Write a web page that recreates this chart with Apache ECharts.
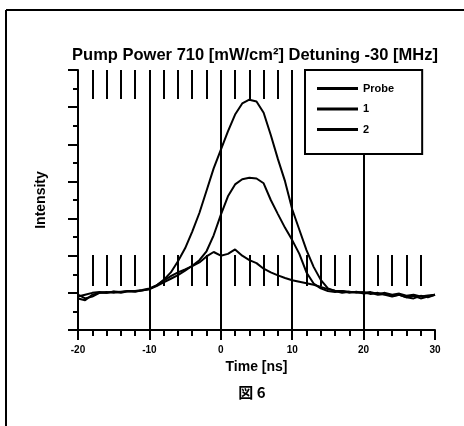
<!DOCTYPE html>
<html>
<head>
<meta charset="utf-8">
<script src="https://cdn.jsdelivr.net/npm/echarts@6/dist/echarts.min.js"></script>
<style>
html,body{margin:0;padding:0;background:#fff;}
#chart{width:464px;height:426px;}
</style>
</head>
<body>
<div id="chart"></div>
<script>
// ---- data ----
const titleText = 'Pump Power 710 [mW/cm²] Detuning -30 [MHz]';
const xAxisName = 'Time [ns]';
const yAxisName = 'Intensity';
const caption = '図 6';
const seriesNames = ['Probe', '1', '2'];
const xTicks = [-20, -10, 0, 10, 20, 30];
const times = [-20,-19,-18,-17,-16,-15,-14,-13,-12,-11,
               -10,-9,-8,-7,-6,-5,-4,-3,-2,-1,
               0,1,2,3,4,5,6,7,8,9,
               10,11,12,13,14,15,16,17,18,19,
               20,21,22,23,24,25,26,27,28,29,30];
const probe = [-0.15,-0.2,-0.05,0.0,0.02,0.0,0.03,0.05,0.04,0.06,
               0.1,0.2,0.33,0.45,0.55,0.63,0.72,0.82,0.98,1.1,
               1.0,1.05,1.17,1.0,0.88,0.8,0.65,0.55,0.47,0.4,
               0.34,0.3,0.26,0.22,0.16,0.1,0.06,0.05,0.03,0.02,
               0.0,0.02,-0.03,0.0,-0.05,-0.02,-0.08,-0.05,-0.1,-0.07,-0.05];
const signal1 = [-0.05,-0.15,-0.1,0.0,0.0,0.03,0.0,0.04,0.03,0.07,
                 0.1,0.18,0.28,0.38,0.48,0.6,0.73,0.88,1.12,1.55,
                 2.1,2.6,2.92,3.06,3.1,3.08,2.95,2.5,2.12,1.75,
                 1.42,1.05,0.55,0.25,0.12,0.05,0.02,0.05,0.0,0.03,
                 -0.02,0.0,-0.05,-0.03,-0.08,-0.05,-0.12,-0.08,-0.15,-0.1,-0.05];
const signal2 = [-0.1,-0.05,0.0,0.02,0.0,0.04,0.02,0.05,0.05,0.08,
                 0.12,0.2,0.35,0.55,0.85,1.2,1.65,2.15,2.75,3.35,
                 3.85,4.35,4.8,5.1,5.2,5.15,4.85,4.25,3.6,3.0,
                 2.25,1.7,1.15,0.7,0.35,0.12,0.05,0.0,0.03,0.0,
                 0.02,-0.03,0.0,-0.05,-0.1,-0.05,-0.12,-0.15,-0.08,-0.12,-0.05];
const seriesValues = [probe, signal1, signal2];

// ---- chart ----
const FONT = 'Liberation Sans';
const chart = echarts.init(document.getElementById('chart'), null, {renderer: 'canvas'});
const xMin = xTicks[0], xMax = xTicks[xTicks.length - 1], xStep = xTicks[1] - xTicks[0];

function pairs(vals) { return times.map((t, i) => [t, vals[i]]); }

const option = {
  backgroundColor: '#fff',
  animation: false,
  title: [
    { text: titleText, left: 255, textAlign: 'center', top: 47, padding: 0,
      textStyle: { fontFamily: FONT, fontSize: 16.5, fontWeight: 'bold', color: '#000' } },
    { text: caption, left: 252, textAlign: 'center', top: 385, padding: 0,
      textStyle: { fontFamily: 'Noto Sans CJK JP', fontSize: 15, fontWeight: 'bold', color: '#000' } }
  ],
  legend: {
    orient: 'vertical', left: 305, top: 70,
    padding: [13, 28, 19, 12],
    itemWidth: 41, itemHeight: 14, itemGap: 9.5,
    icon: 'path://M0,0H41V3H0Z',
    backgroundColor: '#fff', borderColor: '#000', borderWidth: 2, borderRadius: 0,
    z: 20,
    data: seriesNames,
    itemStyle: { color: '#000' },
    textStyle: { fontFamily: FONT, fontSize: 11, fontWeight: 'bold', color: '#000' }
  },
  grid: { left: 78, right: 29, top: 70, bottom: 96, containLabel: false },
  xAxis: [
    {
      type: 'value', min: xMin, max: xMax, interval: xStep, position: 'bottom',
      name: xAxisName, nameLocation: 'middle', nameGap: 29,
      nameTextStyle: { fontFamily: FONT, fontSize: 14, fontWeight: 'bold', color: '#000' },
      axisLine: { show: true, onZero: false, lineStyle: { color: '#000', width: 2 } },
      axisTick: { show: true, length: 10, lineStyle: { color: '#000', width: 2 } },
      minorTick: { show: true, splitNumber: 5, length: 6, lineStyle: { color: '#000', width: 2 } },
      axisLabel: { margin: 15, fontFamily: FONT, fontSize: 10, fontWeight: 'bold', color: '#000',
                   formatter: v => String(v) },
      splitLine: { show: true, showMinLine: false, showMaxLine: false, lineStyle: { color: '#000', width: 2 } }
    },
    {
      type: 'value', min: xMin, max: xMax, interval: xStep, position: 'top',
      axisLine: { show: false, onZero: false }, axisLabel: { show: false }, splitLine: { show: false },
      axisTick: { show: false, inside: true },
      minorTick: { show: true, splitNumber: 5, length: 29, lineStyle: { color: '#000', width: 2 } }
    },
    {
      type: 'value', min: xMin, max: xMax, interval: xStep, position: 'bottom', offset: -44,
      axisLine: { show: false, onZero: false }, axisLabel: { show: false }, splitLine: { show: false },
      axisTick: { show: false, inside: true },
      minorTick: { show: true, splitNumber: 5, length: 31, lineStyle: { color: '#000', width: 2 } }
    }
  ],
  yAxis: {
    type: 'value', min: -1, max: 6, interval: 1,
    name: yAxisName, nameLocation: 'middle', nameGap: 30,
    nameTextStyle: { fontFamily: FONT, fontSize: 14, fontWeight: 'bold', color: '#000' },
    axisLine: { show: true, onZero: false, lineStyle: { color: '#000', width: 2 } },
    axisTick: { show: true, length: 10, lineStyle: { color: '#000', width: 2 } },
    minorTick: { show: true, splitNumber: 2, length: 5, lineStyle: { color: '#000', width: 2 } },
    axisLabel: { show: false },
    splitLine: { show: false }
  },
  series: seriesNames.map((n, i) => ({
    name: n, type: 'line', xAxisIndex: 0, yAxisIndex: 0,
    data: pairs(seriesValues[i]),
    symbol: 'none', smooth: false, z: 5,
    lineStyle: { color: '#000', width: 2 },
    itemStyle: { color: '#000' }
  })),
  graphic: [
    { type: 'line', shape: { x1: 6, y1: 10, x2: 464, y2: 10 }, style: { stroke: '#000', lineWidth: 2 } },
    { type: 'line', shape: { x1: 6, y1: 10, x2: 6, y2: 426 }, style: { stroke: '#000', lineWidth: 2 } }
  ]
};
chart.setOption(option);
</script>
</body>
</html>
